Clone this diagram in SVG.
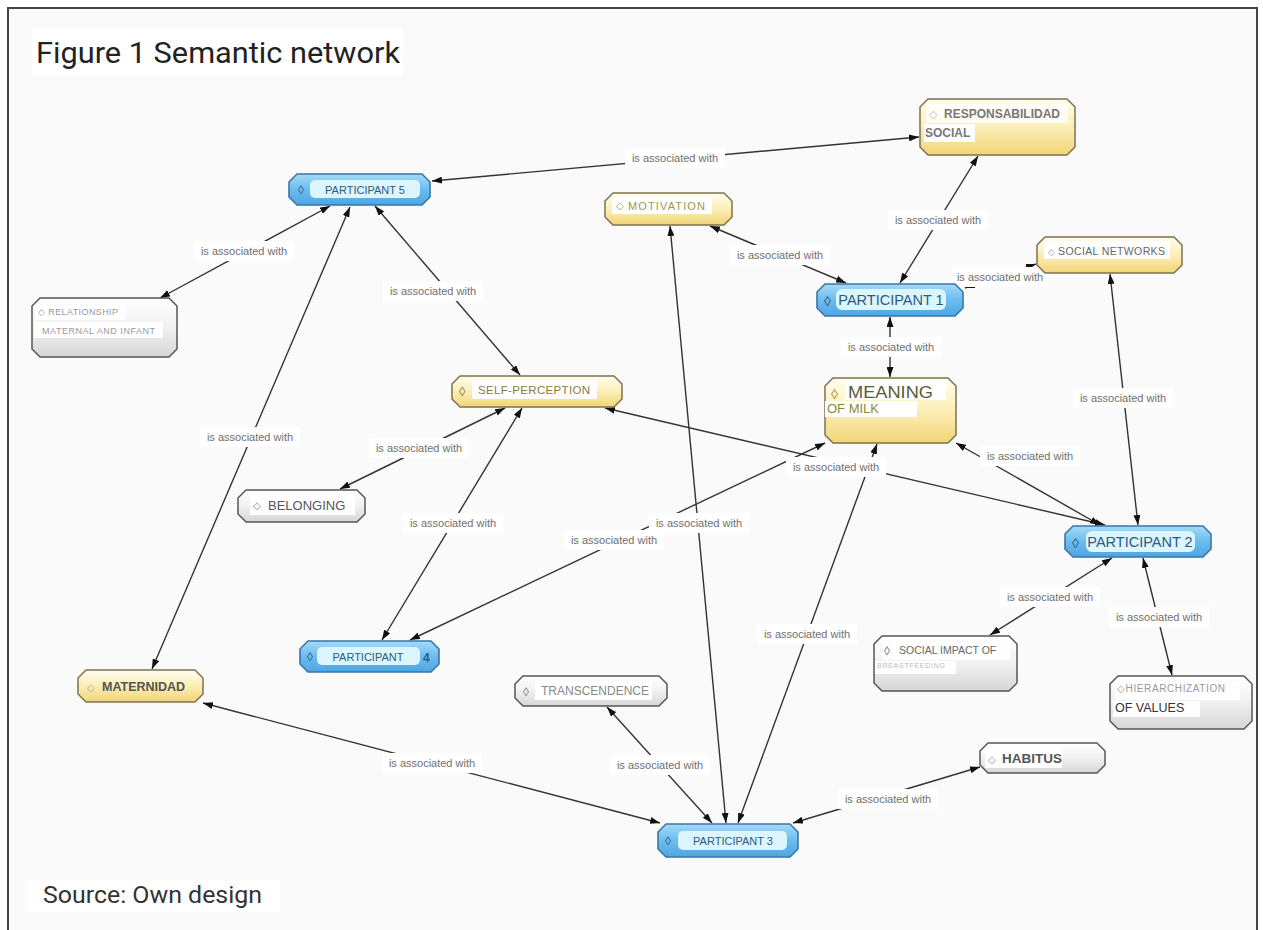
<svg xmlns="http://www.w3.org/2000/svg" width="1263" height="930" viewBox="0 0 1263 930">
<defs>
<linearGradient id="gBlue" x1="0" y1="0" x2="0" y2="1"><stop offset="0" stop-color="#a3dbf8"/><stop offset="0.5" stop-color="#6cbcef"/><stop offset="1" stop-color="#4da6e2"/></linearGradient>
<linearGradient id="gYel" x1="0" y1="0" x2="0" y2="1"><stop offset="0" stop-color="#fffdf0"/><stop offset="0.45" stop-color="#fcf0bd"/><stop offset="1" stop-color="#f1d577"/></linearGradient>
<linearGradient id="gGray" x1="0" y1="0" x2="0" y2="1"><stop offset="0" stop-color="#ffffff"/><stop offset="0.5" stop-color="#f1f1f1"/><stop offset="1" stop-color="#d6d6d6"/></linearGradient>
<marker id="arr" viewBox="0 0 10 7" refX="10" refY="3.5" markerWidth="10" markerHeight="7" markerUnits="userSpaceOnUse" orient="auto-start-reverse"><path d="M0,0 L10,3.5 L0,7 Z" fill="#111"/></marker>
</defs>
<style>
.blue{fill:url(#gBlue);stroke:#3b76a6;stroke-width:1.6;stroke-linejoin:round}
.yel{fill:url(#gYel);stroke:#7d7150;stroke-width:1.5;stroke-linejoin:round}
.gray{fill:url(#gGray);stroke:#555;stroke-width:1.5;stroke-linejoin:round}
.inb{fill:#dbf6ff}
.wb{fill:#ffffff}
.bt{font-family:"Liberation Sans",Arial,sans-serif;fill:#2b5a82}
.t{font-family:"Liberation Sans",Arial,sans-serif}
.e{fill:none;stroke:#333;stroke-width:1.4;marker-start:url(#arr);marker-end:url(#arr)}
.lb{fill:#ffffff}
.lt{font-family:"Liberation Sans",Arial,sans-serif;font-size:11px;fill:#707070;text-anchor:middle}
.big{font-family:Roboto,"Liberation Sans",sans-serif}
</style>
<rect x="0" y="0" width="1263" height="930" fill="#ffffff"/>
<rect x="8" y="8" width="1249" height="940" fill="#fafafa" stroke="#444" stroke-width="2"/>
<g id="title">
<rect x="32" y="29" width="371" height="46" fill="#ffffff"/>
<text x="36" y="63" class="big" font-size="29" fill="#222" textLength="364" lengthAdjust="spacingAndGlyphs">Figure 1 Semantic network</text>
</g>
<g id="source">
<rect x="27" y="880" width="253" height="32" fill="#ffffff"/>
<text x="43" y="903" class="big" font-size="24" fill="#333" textLength="219" lengthAdjust="spacingAndGlyphs">Source: Own design</text>
</g>
<g id="connectors">
<line class="e" x1="432" y1="181" x2="919" y2="137"/>
<line class="e" x1="330" y1="206" x2="160" y2="298"/>
<line class="e" x1="350" y1="207" x2="152" y2="669"/>
<line class="e" x1="375" y1="206" x2="520" y2="375"/>
<line class="e" x1="670" y1="226" x2="726" y2="823"/>
<line class="e" x1="710" y1="226" x2="846" y2="283"/>
<line class="e" x1="978" y1="156" x2="900" y2="283"/>
<line class="e" x1="965" y1="288" x2="1036" y2="264"/>
<line class="e" x1="890" y1="317" x2="890" y2="377"/>
<line class="e" x1="1110" y1="274" x2="1138" y2="525"/>
<line class="e" x1="505" y1="408" x2="340" y2="489"/>
<line class="e" x1="522" y1="408" x2="382" y2="640"/>
<line class="e" x1="605" y1="408" x2="1105" y2="525"/>
<line class="e" x1="825" y1="443" x2="410" y2="640"/>
<line class="e" x1="877" y1="444" x2="738" y2="823"/>
<line class="e" x1="956" y1="443" x2="1100" y2="525"/>
<line class="e" x1="1112" y1="558" x2="990" y2="635"/>
<line class="e" x1="1143" y1="558" x2="1172" y2="675"/>
<line class="e" x1="203" y1="703" x2="660" y2="823"/>
<line class="e" x1="607" y1="707" x2="712" y2="823"/>
<line class="e" x1="980" y1="767" x2="793" y2="823"/>
<g id="labels">
<rect class="lb" x="625" y="148" width="100" height="20"/><text class="lt" x="675" y="162">is associated with</text>
<rect class="lb" x="194" y="241" width="100" height="20"/><text class="lt" x="244" y="255">is associated with</text>
<rect class="lb" x="383" y="281" width="100" height="20"/><text class="lt" x="433" y="295">is associated with</text>
<rect class="lb" x="200" y="427" width="100" height="20"/><text class="lt" x="250" y="441">is associated with</text>
<rect class="lb" x="730" y="245" width="100" height="20"/><text class="lt" x="780" y="259">is associated with</text>
<rect class="lb" x="888" y="210" width="100" height="20"/><text class="lt" x="938" y="224">is associated with</text>
<rect class="lb" x="952" y="267" width="96" height="20"/><text class="lt" x="1000" y="281">is associated with</text>
<rect class="lb" x="841" y="337" width="100" height="20"/><text class="lt" x="891" y="351">is associated with</text>
<rect class="lb" x="1073" y="388" width="100" height="20"/><text class="lt" x="1123" y="402">is associated with</text>
<rect class="lb" x="369" y="438" width="100" height="20"/><text class="lt" x="419" y="452">is associated with</text>
<rect class="lb" x="403" y="513" width="100" height="20"/><text class="lt" x="453" y="527">is associated with</text>
<rect class="lb" x="786" y="457" width="100" height="20"/><text class="lt" x="836" y="471">is associated with</text>
<rect class="lb" x="564" y="530" width="100" height="20"/><text class="lt" x="614" y="544">is associated with</text>
<rect class="lb" x="649" y="513" width="100" height="20"/><text class="lt" x="699" y="527">is associated with</text>
<rect class="lb" x="757" y="624" width="100" height="20"/><text class="lt" x="807" y="638">is associated with</text>
<rect class="lb" x="980" y="446" width="100" height="20"/><text class="lt" x="1030" y="460">is associated with</text>
<rect class="lb" x="1000" y="587" width="100" height="20"/><text class="lt" x="1050" y="601">is associated with</text>
<rect class="lb" x="1109" y="607" width="100" height="20"/><text class="lt" x="1159" y="621">is associated with</text>
<rect class="lb" x="382" y="753" width="100" height="20"/><text class="lt" x="432" y="767">is associated with</text>
<rect class="lb" x="610" y="755" width="100" height="20"/><text class="lt" x="660" y="769">is associated with</text>
<rect class="lb" x="838" y="789" width="100" height="20"/><text class="lt" x="888" y="803">is associated with</text>
</g>
</g>
<g id="participant5">
<path class="blue" d="M297,174 H422 L430,182 V197 L422,205 H297 L289,197 V182 Z"/>
<rect class="inb" x="310" y="180" width="110" height="18" rx="5"/>
<text class="bt" x="298" y="194" font-size="12">◊</text>
<text class="bt" x="365" y="193.5" font-size="11" text-anchor="middle">PARTICIPANT 5</text>
</g>
<g id="participant1">
<path class="blue" d="M825,284 H955 L963,292 V308 L955,316 H825 L817,308 V292 Z"/>
<rect class="inb" x="836" y="289" width="110" height="21" rx="6"/>
<text class="bt" x="824" y="306" font-size="14">◊</text>
<text class="bt" x="891" y="305" font-size="14.5" text-anchor="middle">PARTICIPANT 1</text>
</g>
<g id="participant2">
<path class="blue" d="M1073,526 H1203 L1211,534 V549 L1203,557 H1073 L1065,549 V534 Z"/>
<rect class="inb" x="1086" y="531" width="109" height="21" rx="6"/>
<text class="bt" x="1072" y="548" font-size="14">◊</text>
<text class="bt" x="1140" y="547" font-size="14.5" text-anchor="middle">PARTICIPANT 2</text>
</g>
<g id="participant3">
<path class="blue" d="M666,824 H790 L798,832 V849 L790,857 H666 L658,849 V832 Z"/>
<rect class="inb" x="678" y="831" width="109" height="19" rx="5"/>
<text class="bt" x="665" y="845" font-size="12">◊</text>
<text class="bt" x="733" y="845" font-size="11" text-anchor="middle">PARTICIPANT 3</text>
</g>
<g id="participant4">
<path class="blue" d="M308,641 H431 L439,649 V664 L431,672 H308 L300,664 V649 Z"/>
<rect class="inb" x="317" y="647" width="103" height="18" rx="5"/>
<text class="bt" x="307" y="661" font-size="12">◊</text>
<text class="bt" x="368" y="661" font-size="11" text-anchor="middle">PARTICIPANT</text>
<text class="bt" x="423" y="662" font-size="12" font-weight="bold" fill="#1f3f5c">4</text>
</g>
<g id="responsabilidad">
<path class="yel" d="M928,99 H1067 L1075,107 V147 L1067,155 H928 L920,147 V107 Z"/>
<rect class="wb" x="926" y="104" width="142" height="19" opacity="0.75"/>
<rect class="wb" x="924" y="124" width="51" height="18"/>
<text class="t" x="929" y="118" font-size="11" fill="#bbb">◇</text>
<text class="t" x="944" y="118" font-size="12" font-weight="bold" fill="#777">RESPONSABILIDAD</text>
<text class="t" x="925" y="137" font-size="12" font-weight="bold" fill="#777">SOCIAL</text>
</g>
<g id="motivation">
<path class="yel" d="M613,193 H724 L732,201 V217 L724,225 H613 L605,217 V201 Z"/>
<rect class="wb" x="612" y="197" width="100" height="17"/>
<text class="t" x="616" y="209" font-size="10" fill="#a0a060">◇</text>
<text class="t" x="628" y="209.5" font-size="11" fill="#9a9a45" textLength="77" lengthAdjust="spacing">MOTIVATION</text>
</g>
<g id="social-networks">
<path class="yel" d="M1045,237 H1174 L1182,245 V265 L1174,273 H1045 L1037,265 V245 Z"/>
<rect class="wb" x="1044" y="241" width="126" height="18"/>
<text class="t" x="1048" y="255" font-size="9" fill="#999">◇</text>
<text class="t" x="1058" y="255" font-size="10.5" fill="#666" textLength="107" lengthAdjust="spacing">SOCIAL NETWORKS</text>
</g>
<g id="meaning-of-milk">
<path class="yel" d="M833,378 H948 L956,386 V435 L948,443 H833 L825,435 V386 Z"/>
<rect class="wb" x="845" y="381" width="101" height="19"/>
<rect class="wb" x="825" y="401" width="92" height="16"/>
<text class="t" x="831" y="399" font-size="14" fill="#a08a30">◊</text>
<text class="t" x="848" y="398" font-size="17" fill="#5a5a3a" textLength="85" lengthAdjust="spacingAndGlyphs">MEANING</text>
<text class="t" x="827" y="413" font-size="13" fill="#8a8a30">OF MILK</text>
</g>
<g id="self-perception">
<path class="yel" d="M460,376 H614 L622,384 V399 L614,407 H460 L452,399 V384 Z"/>
<rect class="wb" x="472" y="380" width="125" height="19"/>
<text class="t" x="459" y="396" font-size="13" fill="#8a7a30">◊</text>
<text class="t" x="478" y="394" font-size="11.5" fill="#8a7a40" textLength="112" lengthAdjust="spacing">SELF-PERCEPTION</text>
</g>
<g id="maternidad">
<path class="yel" d="M86,670 H195 L203,678 V694 L195,702 H86 L78,694 V678 Z"/>
<text class="t" x="87" y="691" font-size="10" fill="#aaa">◇</text>
<text class="t" x="102" y="691" font-size="12.5" font-weight="bold" fill="#555">MATERNIDAD</text>
</g>
<g id="relationship">
<path class="gray" d="M40,298 H169 L177,306 V349 L169,357 H40 L32,349 V306 Z"/>
<rect class="wb" x="35" y="305" width="90" height="15"/>
<rect class="wb" x="34" y="322" width="129" height="16"/>
<text class="t" x="38" y="315" font-size="9" fill="#999" textLength="80" lengthAdjust="spacing">◇ RELATIONSHIP</text>
<text class="t" x="42" y="334" font-size="9" fill="#999" textLength="113" lengthAdjust="spacing">MATERNAL AND INFANT</text>
</g>
<g id="belonging">
<path class="gray" d="M246,490 H357 L365,498 V514 L357,522 H246 L238,514 V498 Z"/>
<rect class="wb" x="250" y="495" width="105" height="20"/>
<text class="t" x="253" y="509" font-size="10" fill="#888">◇</text>
<text class="t" x="268" y="510" font-size="13" fill="#555">BELONGING</text>
</g>
<g id="transcendence">
<path class="gray" d="M523,676 H659 L667,684 V698 L659,706 H523 L515,698 V684 Z"/>
<rect class="wb" x="535" y="681" width="117" height="19"/>
<text class="t" x="523" y="696" font-size="12" fill="#777">◊</text>
<text class="t" x="541" y="695" font-size="12" fill="#888">TRANSCENDENCE</text>
</g>
<g id="social-impact">
<path class="gray" d="M882,636 H1009 L1017,644 V683 L1009,691 H882 L874,683 V644 Z"/>
<rect class="wb" x="882" y="641" width="128" height="19"/>
<rect class="wb" x="875" y="661" width="81" height="13"/>
<text class="t" x="884" y="655" font-size="12" fill="#666">◊</text>
<text class="t" x="899" y="654" font-size="10.5" fill="#666">SOCIAL IMPACT OF</text>
<text class="t" x="877" y="668" font-size="7" fill="#bbb" textLength="68" lengthAdjust="spacing">BREASTFEEDING</text>
</g>
<g id="hierarchization">
<path class="gray" d="M1118,676 H1244 L1252,684 V721 L1244,729 H1118 L1110,721 V684 Z"/>
<rect class="wb" x="1115" y="682" width="125" height="18"/>
<rect class="wb" x="1113" y="701" width="87" height="16"/>
<text class="t" x="1117" y="692" font-size="10" fill="#999" textLength="108" lengthAdjust="spacing">◇HIERARCHIZATION</text>
<text class="t" x="1115" y="712" font-size="12.5" fill="#333">OF VALUES</text>
</g>
<g id="habitus">
<path class="gray" d="M988,743 H1097 L1105,751 V765 L1097,773 H988 L980,765 V751 Z"/>
<rect class="wb" x="985" y="748" width="77" height="20"/>
<text class="t" x="988" y="763" font-size="10" fill="#999">◇</text>
<text class="t" x="1002" y="763" font-size="13.5" font-weight="bold" fill="#555">HABITUS</text>
</g>
</svg>
